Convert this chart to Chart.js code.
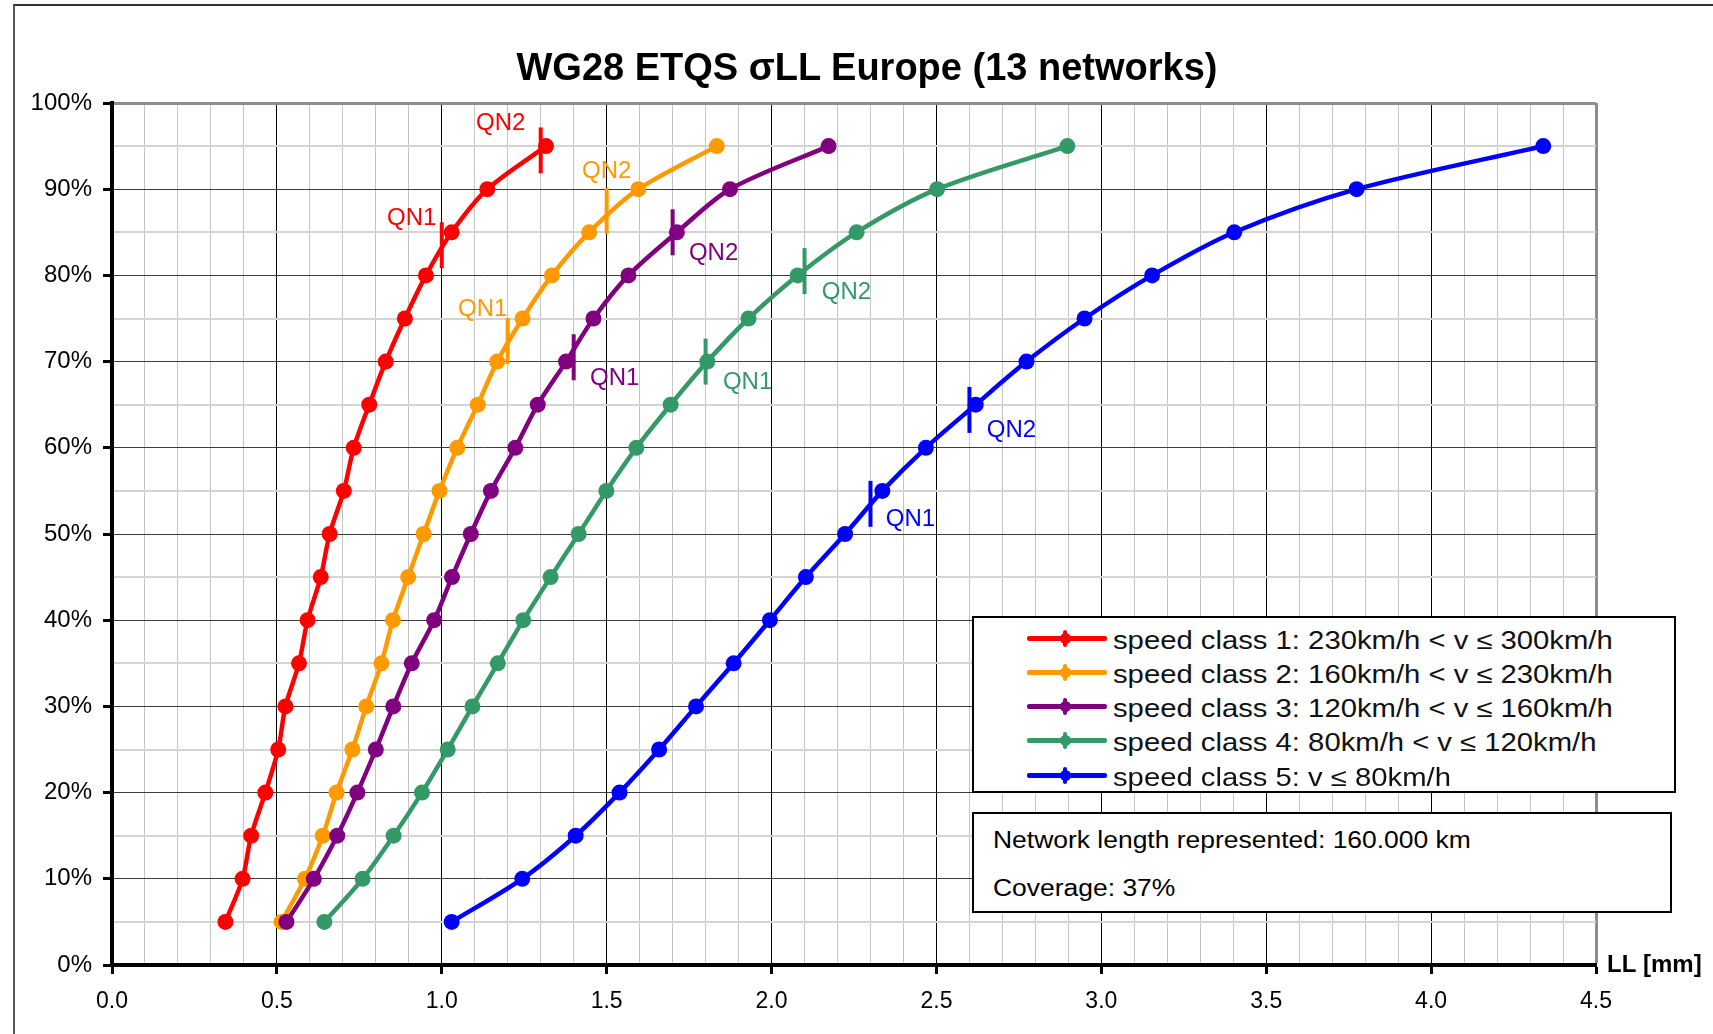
<!DOCTYPE html>
<html lang="en">
<head>
<meta charset="UTF-8">
<title>WG28 ETQS σLL Europe</title>
<script src="https://cdn.jsdelivr.net/npm/chart.js"></script>
<style>
  body { margin: 0; background: #fff; font-family: "Liberation Sans", Arial, sans-serif; }
  #wrap { position: relative; width: 1713px; height: 1034px; overflow: hidden; }
  #frame { position: absolute; left: 13px; top: 4px; width: 1800px; height: 1100px; border-left: 2px solid #555; border-top: 2px solid #333; }
  #title { position: absolute; left: 0; top: 45px; width: 1734px; text-align: center; font-weight: bold; font-size: 38px; line-height: 44px; color: #000; }
  canvas { position: absolute; left: 0; top: 0; }
  .box { position: absolute; box-sizing: border-box; border: 2px solid #000; background: #fff; }
  #legend { left: 972px; top: 616px; width: 704px; height: 177px; }
  .row { position: absolute; left: 0; width: 100%; height: 34px; }
  .sample { position: absolute; left: 53px; top: 14.5px; width: 80px; height: 5px; border-radius: 2px; }
  .dot { position: absolute; left: 85.5px; top: 11.5px; width: 11px; height: 11px; border-radius: 50%; }
  .bar { position: absolute; left: 89px; top: 8.5px; width: 4px; height: 17px; border-radius: 2px; }
  .txt { position: absolute; left: 139px; top: 1.5px; line-height: 34px; font-size: 25px; color: #111; transform: scaleX(1.17); transform-origin: left center; white-space: nowrap; }
  #info { left: 972px; top: 812px; width: 700px; height: 101px; }
  #info div { position: absolute; left: 19px; font-size: 23px; line-height: 30px; color: #000; transform: scaleX(1.15); transform-origin: left center; white-space: nowrap; }
</style>
</head>
<body>
<div id="wrap">
  <div id="frame"></div>
  <canvas id="llChart" width="1713" height="1034"></canvas>
  <div id="title">WG28 ETQS σLL Europe (13 networks)</div>
  <div id="legend" class="box"></div>
  <div id="info" class="box">
    <div id="note1" style="top: 11px;"></div>
    <div id="note2" style="top: 59px;"></div>
  </div>
</div>

<script>
// cumulative share of network (%)
const pct = [5, 10, 15, 20, 25, 30, 35, 40, 45, 50, 55, 60, 65, 70, 75, 80, 85, 90, 95];

const seriesNames = [
  'speed class 1: 230km/h < v ≤ 300km/h',
  'speed class 2: 160km/h < v ≤ 230km/h',
  'speed class 3: 120km/h < v ≤ 160km/h',
  'speed class 4: 80km/h < v ≤ 120km/h',
  'speed class 5: v ≤ 80km/h'
];

// sigma LL in mm, one value per pct entry
const class1 = [0.344, 0.396, 0.422, 0.465, 0.504, 0.526, 0.567, 0.593, 0.633, 0.660, 0.703, 0.733, 0.780, 0.830, 0.888, 0.952, 1.030, 1.138, 1.316];
const class2 = [0.514, 0.585, 0.639, 0.681, 0.729, 0.771, 0.817, 0.852, 0.898, 0.945, 0.993, 1.047, 1.109, 1.168, 1.245, 1.334, 1.447, 1.596, 1.834];
const class3 = [0.529, 0.612, 0.683, 0.744, 0.800, 0.853, 0.909, 0.977, 1.031, 1.088, 1.149, 1.223, 1.291, 1.377, 1.460, 1.566, 1.713, 1.874, 2.173];
const class4 = [0.644, 0.760, 0.854, 0.940, 1.018, 1.093, 1.170, 1.247, 1.330, 1.415, 1.499, 1.590, 1.694, 1.805, 1.930, 2.079, 2.258, 2.502, 2.897];
const class5 = [1.030, 1.244, 1.406, 1.539, 1.659, 1.771, 1.885, 1.995, 2.104, 2.223, 2.336, 2.468, 2.619, 2.773, 2.949, 3.154, 3.403, 3.774, 4.340];

// QN1 / QN2 limits per speed class
const qnNames = ['QN1', 'QN2'];
const qn1X = [1.0, 1.2, 1.4, 1.8, 2.3];
const qn1Y = [83.5, 72.4, 70.5, 70.0, 53.5];
const qn2X = [1.3, 1.5, 1.7, 2.1, 2.6];
const qn2Y = [94.5, 87.5, 85.0, 80.5, 64.4];

const xTicks = [0, 0.5, 1.0, 1.5, 2.0, 2.5, 3.0, 3.5, 4.0, 4.5];
const xTitle = 'LL [mm]';
const networkNote = 'Network length represented: 160.000 km';
const coverageNote = 'Coverage: 37%';

const colors = ['#FF0000', '#FF9900', '#800080', '#339966', '#0000FF'];
// label offset (px) from each QN tick: [QN1, QN2]
const qnLabelOffsets = [
  [[-30, -27], [-40, -27]],
  [[-25, -32], [0, -39]],
  [[41, 21], [41, 21]],
  [[42, 21], [42, 21]],
  [[40, 16], [42, 21]]
];

const allSeries = [class1, class2, class3, class4, class5];
const datasets = [];

allSeries.forEach((vals, i) => {
  datasets.push({
    label: seriesNames[i],
    data: vals.map((v, j) => ({ x: v, y: pct[j] })),
    borderColor: colors[i],
    backgroundColor: colors[i],
    borderWidth: 4.5,
    pointRadius: 8,
    pointBorderWidth: 0,
    tension: 0.3,
    order: 10 - i
  });
});

allSeries.forEach((vals, i) => {
  datasets.push({
    label: 'QN ' + (i + 1),
    qn: i,
    data: [{ x: qn1X[i], y: qn1Y[i] }, { x: qn2X[i], y: qn2Y[i] }],
    showLine: false,
    pointStyle: 'line',
    rotation: 90,
    pointRadius: 23,
    pointBorderWidth: 4,
    borderColor: colors[i],
    backgroundColor: colors[i],
    order: 0
  });
});

const isMajorX = v => Math.abs(v * 2 - Math.round(v * 2)) < 1e-6;

const qnLabels = {
  id: 'qnLabels',
  afterDatasetsDraw(chart) {
    const ctx = chart.ctx;
    ctx.save();
    ctx.font = '24px "Liberation Sans", Arial, sans-serif';
    ctx.textAlign = 'center';
    ctx.textBaseline = 'middle';
    chart.data.datasets.forEach((ds, di) => {
      if (ds.qn === undefined) return;
      const meta = chart.getDatasetMeta(di);
      meta.data.forEach((pt, k) => {
        const off = qnLabelOffsets[ds.qn][k];
        ctx.fillStyle = colors[ds.qn];
        ctx.fillText(qnNames[k], pt.x + off[0], pt.y + off[1]);
      });
    });
    ctx.restore();
  }
};

const axisTitle = {
  id: 'axisTitle',
  afterDraw(chart) {
    const ctx = chart.ctx;
    ctx.save();
    ctx.font = 'bold 24px "Liberation Sans", Arial, sans-serif';
    ctx.fillStyle = '#000';
    ctx.textAlign = 'left';
    ctx.textBaseline = 'middle';
    ctx.fillText(xTitle, chart.chartArea.right + 11, chart.scales.y.getPixelForValue(0));
    ctx.restore();
  }
};

const ctx = document.getElementById('llChart').getContext('2d');
new Chart(ctx, {
  type: 'line',
  data: { datasets: datasets },
  options: {
    responsive: false,
    animation: false,
    events: [],
    layout: { padding: { left: 12, top: 103, right: 117, bottom: 9 } },
    plugins: {
      legend: { display: false },
      title: { display: false },
      tooltip: { enabled: false }
    },
    scales: {
      x: {
        type: 'linear',
        min: 0,
        max: 4.5,
        afterFit: s => { s.height = 60; },
        afterBuildTicks: s => {
          const t = [];
          for (let i = 0; i <= 45; i++) t.push({ value: i / 10 });
          s.ticks = t;
        },
        ticks: {
          autoSkip: false,
          maxRotation: 0,
          padding: 14,
          color: '#000',
          font: { size: 23, family: '"Liberation Sans", Arial, sans-serif' },
          callback: v => isMajorX(v) && xTicks.some(t => Math.abs(t - v) < 1e-6) ? v.toFixed(1) : ''
        },
        grid: {
          color: c => {
            const v = c.tick.value;
            if (v < 1e-6) return 'rgba(0,0,0,0)';
            if (Math.abs(v - 4.5) < 1e-6) return '#8c8c8c';
            return isMajorX(v) ? '#000' : '#c4c4c4';
          },
          lineWidth: c => Math.abs(c.tick.value - 4.5) < 1e-6 ? 3 : 1,
          tickColor: c => isMajorX(c.tick.value) ? '#000' : 'rgba(0,0,0,0)',
          tickLength: 9,
          tickWidth: 3
        },
        border: { color: '#000', width: 4 }
      },
      y: {
        min: 0,
        max: 100,
        afterFit: s => { s.width = 100; },
        ticks: {
          stepSize: 5,
          padding: 11,
          color: '#000',
          font: { size: 24, family: '"Liberation Sans", Arial, sans-serif' },
          callback: v => v % 10 === 0 ? v + '%' : ''
        },
        grid: {
          color: c => {
            const v = c.tick.value;
            if (v === 0) return 'rgba(0,0,0,0)';
            if (v === 100) return '#8c8c8c';
            return v % 10 === 0 ? '#3c3c3c' : '#d4d4d4';
          },
          lineWidth: c => c.tick.value === 100 ? 3 : (c.tick.value % 10 === 0 ? 1 : 2),
          tickColor: c => c.tick.value % 10 === 0 ? '#000' : 'rgba(0,0,0,0)',
          tickLength: 9,
          tickWidth: 3
        },
        border: { color: '#000', width: 4 }
      }
    }
  },
  plugins: [qnLabels, axisTitle]
});

// legend and notes
const legendBox = document.getElementById('legend');
seriesNames.forEach((name, i) => {
  const row = document.createElement('div');
  row.className = 'row';
  row.style.top = (3 + i * 34.25) + 'px';
  row.innerHTML =
    '<div class="sample" style="background:' + colors[i] + '"></div>' +
    '<div class="dot" style="background:' + colors[i] + '"></div>' +
    '<div class="bar" style="background:' + colors[i] + '"></div>' +
    '<div class="txt"></div>';
  row.querySelector('.txt').textContent = name;
  legendBox.appendChild(row);
});
document.getElementById('note1').textContent = networkNote;
document.getElementById('note2').textContent = coverageNote;
</script>
</body>
</html>
